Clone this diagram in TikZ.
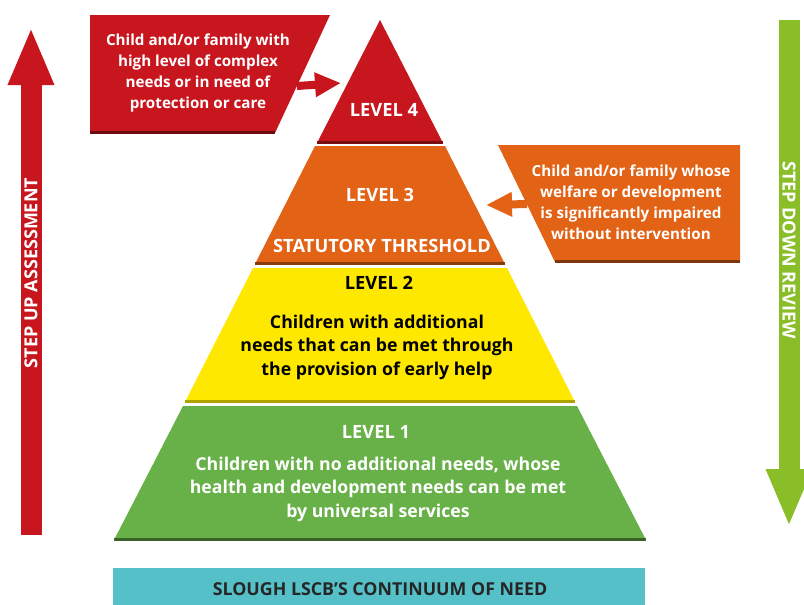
\documentclass[tikz,border=0pt]{standalone}
\usepackage{fontspec}
\setmainfont{Open Sans}
\usetikzlibrary{positioning,arrows.meta}
\definecolor{needred}{RGB}{200,22,30}
\definecolor{needorange}{RGB}{226,98,22}
\definecolor{needyellow}{RGB}{255,232,0}
\definecolor{needgreen}{RGB}{104,176,72}
\definecolor{needcyan}{RGB}{86,192,200}
\definecolor{downgreen}{RGB}{138,190,40}
\tikzstyle{level} = [font=\fontsize{18.3}{21}\selectfont\bfseries, text=white]
\tikzstyle{blurb} = [font=\fontsize{17.7}{23.5}\selectfont\bfseries, align=center, text=white]
\tikzstyle{callout} = [font=\fontsize{15.2}{21}\selectfont\bfseries, align=center, text=white]
\tikzstyle{steptext} = [font=\fontsize{18}{20}\selectfont\bfseries, text=white]
\tikzstyle{bigarrow} = [line width=21pt, -{Triangle[length=58pt,width=42pt]}]
\tikzstyle{smallarrow} = [line width=8pt, -{Triangle[length=26pt,width=23pt]}]
\tikzstyle{edge} = [line width=3pt]

\begin{document}
\begin{tikzpicture}[x=1pt,y=-1pt]
\useasboundingbox (0,0) rectangle (804,605);
%
% pyramid
\fill[needred] (380,20) -- (443,143) -- (317,143) -- cycle;
\draw[edge, needred!60!black] (317,142) -- (443,142);
\fill[needorange] (315,146) -- (445,146) -- (505,264) -- (255,264) -- cycle;
\draw[edge, needorange!60!black] (255,263) -- (505,263);
\fill[needyellow] (253,268) -- (507,268) -- (575,402) -- (185,402) -- cycle;
\draw[edge, needyellow!70!black] (185,401) -- (575,401);
\fill[needgreen] (183,406) -- (577,406) -- (646,540) -- (114,540) -- cycle;
\draw[edge, needgreen!55!black] (114,539) -- (646,539);
%
\node[level] (lev4) at (384,110) {LEVEL 4};
\node[level] (lev3) at (380,195) {LEVEL 3};
\node[level] (stat) at (382,246) {STATUTORY THRESHOLD};
\node[level, text=black] (lev2) at (379,283) {LEVEL 2};
\node[blurb, text=black] (lev2txt) at (377,347) {Children with additional\\needs that can be met through\\the provision of early help};
\node[level] (lev1) at (376,432) {LEVEL 1};
\node[blurb] (lev1txt) at (378,489) {Children with no additional needs, whose\\health and development needs can be met\\by universal services};
%
% callouts
\fill[needred] (90,15) -- (330,15) -- (275,133) -- (90,133) -- cycle;
\draw[edge, needred!55!black] (90,132) -- (275,132);
\node[callout] (need4) at (198,73) {Child and/or family with\\high level of complex\\needs or in need of\\protection or care};
\coordinate (from4) at (297,86);
\coordinate (to4) at (341,83);
\draw[smallarrow, needred] (from4) -- (to4);
%
\fill[needorange] (498,145) -- (740,145) -- (740,262) -- (555,262) -- cycle;
\draw[edge, needorange!55!black] (555,261) -- (740,261);
\node[callout] (need3) at (631,202) {Child and/or family whose\\welfare or development\\is significantly impaired\\without intervention};
\coordinate (from3) at (527,204);
\coordinate (to3) at (486,205);
\draw[smallarrow, needorange] (from3) -- (to3);
%
% step up / step down
\coordinate (upbot) at (31,535);
\coordinate (uptop) at (31,27);
\draw[bigarrow, needred] (upbot) -- (uptop);
\node[steptext, rotate=90] (stepup) at (31,273) {STEP UP ASSESSMENT};
%
\coordinate (downtop) at (789,20);
\coordinate (downbot) at (789,527);
\draw[bigarrow, downgreen] (downtop) -- (downbot);
\node[steptext, rotate=-90] (stepdown) at (789,250) {STEP DOWN REVIEW};
%
% title bar
\fill[needcyan] (113,568) rectangle (645,605);
\node[level, text=black!85, font=\fontsize{17.8}{20}\selectfont\bfseries] (continuum) at (380,589) {SLOUGH LSCB’S CONTINUUM OF NEED};

\end{tikzpicture}
\end{document}
